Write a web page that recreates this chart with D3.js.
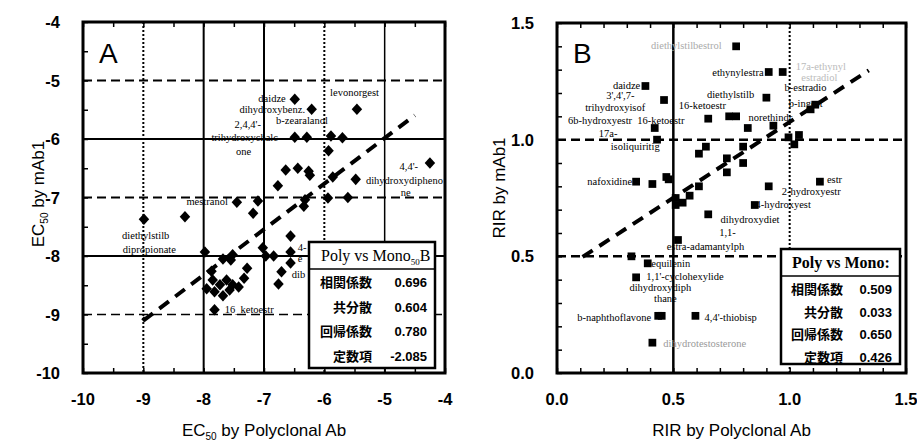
<!DOCTYPE html>
<html>
<head>
<meta charset="utf-8">
<title>Poly vs Mono</title>
<script src="https://cdn.jsdelivr.net/npm/d3@7"></script>
<style>
    body { margin: 0; background: #fff; }
    .tick-label { font-family: "Liberation Sans", Arial, sans-serif; font-weight: bold; font-size: 16.5px; }
    .axis-title { font-family: "Liberation Sans", Arial, sans-serif; font-size: 17px; }
    .pt-label { font-family: "Liberation Serif", serif; font-size: 10.5px; }
</style>
</head>
<body>
<script>
// panel A: log EC50 values
var ecPoly = [-6.49, -6.21, -5.46, -6.49, -6.29, -5.89, -5.70, -5.93, -4.25, -6.64,
    -6.44, -6.26, -6.24, -5.86, -6.77, -5.48, -7.45, -7.10, -6.32, -6.34,
    -5.94, -5.61, -7.18, -8.31, -8.99, -6.56, -7.98, -7.02, -6.97, -6.84,
    -6.56, -6.56, -6.71, -6.76, -7.68, -7.55, -7.52, -7.28, -7.33, -7.87,
    -7.85, -7.95, -7.82, -7.73, -7.68, -7.62, -7.57, -7.52, -7.42, -7.82, -8.99];
var ecMono = [-5.32, -5.49, -5.49, -5.97, -5.97, -5.95, -5.98, -6.20, -6.41, -6.53,
    -6.50, -6.55, -6.62, -6.65, -6.80, -6.69, -7.08, -7.06, -7.04, -7.15,
    -7.01, -7.00, -7.27, -7.33, -7.37, -7.66, -7.93, -7.86, -8.00, -8.00,
    -7.93, -8.12, -8.27, -8.48, -8.05, -8.07, -7.98, -8.21, -8.38, -8.26,
    -8.41, -8.56, -8.61, -8.49, -8.68, -8.41, -8.58, -8.49, -8.53, -8.92, -9.08];

// panel B: relative immunoreactivity
var rirPoly = [0.77, 0.91, 0.97, 0.38, 0.46, 0.90, 1.09, 1.11, 0.65, 0.74,
    0.77, 0.42, 0.82, 0.93, 0.43, 0.995, 1.04, 1.02, 0.64, 0.61,
    0.80, 0.80, 0.73, 0.73, 0.34, 0.41, 0.47, 0.48, 0.61, 0.91,
    1.13, 0.51, 0.51, 0.57, 0.54, 0.85, 0.65, 0.52, 0.32, 0.39,
    0.34, 0.435, 0.45, 0.595, 0.41];
var rirMono = [1.40, 1.29, 1.29, 1.23, 1.17, 1.18, 1.13, 1.15, 1.09, 1.10,
    1.10, 1.05, 1.05, 1.06, 1.00, 1.01, 1.02, 0.98, 0.97, 0.94,
    0.97, 0.90, 0.92, 0.86, 0.82, 0.81, 0.84, 0.83, 0.80, 0.80,
    0.82, 0.75, 0.72, 0.76, 0.73, 0.72, 0.68, 0.57, 0.50, 0.47,
    0.41, 0.245, 0.245, 0.245, 0.13];

// compound names next to points: [text, x, y, anchor, colour]
var ecLabels = [
    ["daidze", -6.64, -5.37, "end"],
    ["dihydroxybenz.", -6.32, -5.56, "end"],
    ["b-zearalanol", -6.80, -5.74, "start"],
    ["2,4,4'-", -7.27, -5.81, "middle"],
    ["trihydroxychalc", -7.32, -6.03, "middle"],
    ["one", -7.34, -6.27, "middle"],
    ["levonorgest", -5.50, -5.26, "middle"],
    ["4,4'-", -4.60, -6.53, "middle"],
    ["dihydroxydipheno", -5.31, -6.77, "start"],
    ["ne", -4.65, -6.97, "middle"],
    ["mestranol", -7.60, -7.13, "end"],
    ["diethylstilb", -8.96, -7.71, "middle"],
    ["dipropionate", -8.90, -7.95, "middle"],
    ["16_ketoestr", -7.65, -8.97, "start"],
    ["4-", -6.44, -7.92, "start"],
    ["e", -6.44, -8.11, "start"],
    ["dib", -6.54, -8.37, "start"]
];
var rirLabels = [
    ["diethylstilbestrol", 0.556, 1.389, "middle", "#aaa"],
    ["ethynylestra", 0.888, 1.273, "end"],
    ["17a-ethynyl", 1.026, 1.30, "start", "#bbb"],
    ["estradiol", 1.05, 1.25, "start", "#bbb"],
    ["daidze", 0.358, 1.217, "end"],
    ["3',4',7-", 0.272, 1.174, "middle"],
    ["trihydroxyisof", 0.25, 1.123, "middle"],
    ["6b-hydroxyestr", 0.185, 1.067, "middle"],
    ["16-ketoestr", 0.345, 1.067, "start"],
    ["17a-", 0.22, 1.011, "middle"],
    ["isoliquiritig", 0.336, 0.956, "middle"],
    ["16-ketoestr", 0.625, 1.13, "middle"],
    ["diethylstilb", 0.746, 1.18, "middle"],
    ["b-estradio", 0.978, 1.209, "start"],
    ["b-ingest", 1.069, 1.14, "middle"],
    ["norethindr", 0.823, 1.08, "start"],
    ["nafoxidine", 0.323, 0.806, "end"],
    ["estr", 1.16, 0.816, "start"],
    ["2-hydroxyestr", 0.966, 0.762, "start"],
    ["4-hydroxyest", 0.853, 0.709, "start"],
    ["dihydroxydiet", 0.703, 0.643, "start"],
    ["1,1-", 0.733, 0.587, "middle"],
    ["estra-adamantylph", 0.638, 0.527, "middle"],
    ["equilenin", 0.405, 0.454, "start"],
    ["1,1'-cyclohexylide", 0.55, 0.398, "middle"],
    ["dihydroxydiph", 0.444, 0.351, "middle"],
    ["thane", 0.466, 0.304, "middle"],
    ["b-naphthoflavone", 0.405, 0.223, "end"],
    ["4,4'-thiobisp", 0.634, 0.223, "start"],
    ["dihydrotestosterone", 0.457, 0.111, "start", "#999"]
];

var statNames = ["相関係数", "共分散", "回帰係数", "定数項"];
var ecStats = ["0.696", "0.604", "0.780", "-2.085"];
var rirStats = ["0.509", "0.033", "0.650", "0.426"];

var svg = d3.select("body").append("svg")
        .attr("width", 917)
        .attr("height", 441);

// near-square diamond, like the spreadsheet marker
var wideDiamond = {
    draw: function (ctx, size) {
        var r = Math.sqrt(size) / 2;
        ctx.moveTo(0, -r * 1.1);
        ctx.lineTo(r, 0);
        ctx.lineTo(0, r * 1.1);
        ctx.lineTo(-r, 0);
        ctx.closePath();
    }
};

// text made of parts: [string, dy, small]
function richText(sel, parts, smallSize) {
    parts.forEach(function (h) {
        var ts = sel.append("tspan").text(h[0]);
        if (h[1]) ts.attr("dy", h[1]);
        if (h[2]) ts.attr("font-size", smallSize);
    });
}

function panel(opt) {
    var x = d3.scaleLinear().domain(opt.domain).range([opt.left, opt.right]);
    var y = d3.scaleLinear().domain(opt.domain).range([opt.bottom, opt.top]);
    var g = svg.append("g");

    // grid lines
    opt.vgrid.forEach(function (v) {
        g.append("line")
                .attr("x1", x(v[0])).attr("x2", x(v[0]))
                .attr("y1", opt.top).attr("y2", opt.bottom)
                .attr("stroke", "#000")
                .attr("stroke-width", v[2])
                .attr("stroke-dasharray", v[1]);
    });
    opt.hgrid.forEach(function (v) {
        g.append("line")
                .attr("y1", y(v[0])).attr("y2", y(v[0]))
                .attr("x1", opt.left).attr("x2", opt.right)
                .attr("stroke", "#000")
                .attr("stroke-width", v[2])
                .attr("stroke-dasharray", v[1]);
    });

    // minor inward ticks
    g.append("g").attr("transform", "translate(" + opt.left + ",0)")
            .call(d3.axisLeft(y).tickValues(opt.minor).tickSize(-5).tickFormat(""))
            .call(function (s) { s.select(".domain").remove(); });
    g.append("g").attr("transform", "translate(0," + opt.top + ")")
            .call(d3.axisTop(x).tickValues(opt.minor).tickSize(-5).tickFormat(""))
            .call(function (s) { s.select(".domain").remove(); });
    g.append("g").attr("transform", "translate(0," + opt.bottom + ")")
            .call(d3.axisBottom(x).tickValues(opt.minor).tickSize(-5).tickFormat(""))
            .call(function (s) { s.select(".domain").remove(); });
    g.selectAll(".tick line").attr("stroke-width", 1.5);

    // points
    var sym = d3.symbol().type(opt.symbol).size(opt.symSize);
    var symSmall = d3.symbol().type(opt.symbol).size(28);
    g.selectAll("path.pt")
            .data(opt.px)
            .enter().append("path")
            .attr("class", "pt")
            .attr("d", function (d, i) { return i === opt.small ? symSmall() : sym(); })
            .attr("transform", function (d, i) {
                return "translate(" + x(d) + "," + y(opt.py[i]) + ")";
            })
            .attr("fill", "#000");

    // regression line
    var slope = +opt.stats[2], icpt = +opt.stats[3];
    g.append("line")
            .attr("x1", x(opt.fit[0])).attr("y1", y(slope * opt.fit[0] + icpt))
            .attr("x2", x(opt.fit[1])).attr("y2", y(slope * opt.fit[1] + icpt))
            .attr("stroke", "#000")
            .attr("stroke-width", 4)
            .attr("stroke-dasharray", "12,8");

    // point labels
    g.selectAll("text.pt-label")
            .data(opt.labels)
            .enter().append("text")
            .attr("class", "pt-label")
            .attr("x", function (d) { return x(d[1]); })
            .attr("y", function (d) { return y(d[2]); })
            .attr("text-anchor", function (d) { return d[3]; })
            .attr("fill", function (d) { return d[4] || "#000"; })
            .text(function (d) { return d[0]; });

    // tick labels
    opt.ticks.forEach(function (t) {
        g.append("text").attr("class", "tick-label")
                .attr("x", x(t)).attr("y", 405)
                .attr("text-anchor", "middle")
                .text(opt.fmt(t));
        g.append("text").attr("class", "tick-label")
                .attr("x", opt.left - 23).attr("y", y(t) + 6)
                .attr("text-anchor", "end")
                .text(opt.fmt(t));
    });

    // stats box
    var b = opt.box;
    g.append("rect")
            .attr("x", b[0]).attr("y", b[1])
            .attr("width", b[2]).attr("height", b[3])
            .attr("fill", "#fff").attr("stroke", "#000").attr("stroke-width", 2.5);
    g.append("line")
            .attr("x1", b[0]).attr("x2", b[0] + b[2])
            .attr("y1", b[1] + 27).attr("y2", b[1] + 27)
            .attr("stroke", "#000").attr("stroke-width", 1.5);
    g.append("clipPath").attr("id", "clip" + opt.id)
            .append("rect").attr("x", b[0]).attr("y", b[1]).attr("width", b[2] - 2).attr("height", 27);
    var head = g.append("text")
            .attr("clip-path", "url(#clip" + opt.id + ")")
            .attr("x", b[0] + opt.headX).attr("y", b[1] + 19)
            .attr("font-family", "Liberation Serif, serif")
            .attr("font-size", 16)
            .attr("font-weight", opt.headBold ? "bold" : "normal");
    richText(head, opt.head, 9);
    statNames.forEach(function (n, i) {
        var ry = b[1] + 45 + i * opt.rowStep;
        g.append("text")
                .attr("x", b[0] + opt.nameRight).attr("y", ry)
                .attr("text-anchor", "end")
                .attr("font-family", "Noto Sans CJK JP")
                .attr("font-weight", "bold").attr("font-size", 13)
                .text(n);
        g.append("text")
                .attr("x", b[0] + b[2] - 8).attr("y", ry)
                .attr("text-anchor", "end")
                .attr("font-family", "Liberation Sans, Arial, sans-serif")
                .attr("font-weight", "bold").attr("font-size", 13)
                .text(opt.stats[i]);
    });

    // frame
    g.append("rect")
            .attr("x", opt.left).attr("y", opt.top)
            .attr("width", opt.right - opt.left).attr("height", opt.bottom - opt.top)
            .attr("fill", "none").attr("stroke", "#000").attr("stroke-width", 3);

    // panel letter
    g.append("text")
            .attr("x", opt.left + 16).attr("y", 63)
            .attr("font-family", "Liberation Sans, Arial, sans-serif")
            .attr("font-size", 28)
            .text(opt.id);

    // axis titles
    var xt = g.append("text").attr("class", "axis-title")
            .attr("x", (opt.left + opt.right) / 2).attr("y", 436)
            .attr("text-anchor", "middle");
    richText(xt, opt.xTitle, 10);
    var yt = g.append("text").attr("class", "axis-title")
            .attr("transform", "translate(" + opt.yTitleX + "," + opt.yTitleY + ") rotate(-90)")
            .attr("text-anchor", "middle");
    richText(yt, opt.yTitle, 10);
}

function plainNumber(d) { return String(d); }

panel({
    id: "A",
    domain: [-10, -4], left: 83, right: 445, top: 22, bottom: 373,
    ticks: [-10, -9, -8, -7, -6, -5, -4],
    minor: d3.range(-10, -3.9, 0.5),
    fmt: plainNumber,
    vgrid: [[-9, "2,2", 2], [-8, null, 2], [-7, null, 2], [-6, "2,2", 2], [-5, null, 1.5]],
    hgrid: [[-5, "9,5", 2], [-6, null, 2], [-7, "9,5", 2], [-8, null, 2], [-9, "9,5", 1.5]],
    px: ecPoly, py: ecMono, symbol: wideDiamond, symSize: 110, small: 50,
    fit: [-9, -4.5],
    labels: ecLabels,
    stats: ecStats,
    box: [309, 242, 126, 126], rowStep: 24.5, nameRight: 63, headX: 12,
    head: [["Poly vs Mono"], ["50", 4, true], ["B", -4]], headBold: false,
    xTitle: [["EC"], ["50", 4, true], [" by Polyclonal Ab", -4]],
    yTitle: [["EC"], ["50", 4, true], [" by mAb1", -4]],
    yTitleX: 44, yTitleY: 194
});

panel({
    id: "B",
    domain: [0, 1.5], left: 557, right: 906, top: 23, bottom: 373,
    ticks: [0, 0.5, 1, 1.5],
    minor: d3.range(0, 1.51, 0.1),
    fmt: d3.format(".1f"),
    vgrid: [[0.5, null, 2.5], [1.0, "2,2", 2]],
    hgrid: [[1.0, "9,5", 2.5], [0.5, "9,5", 2.5]],
    px: rirPoly, py: rirMono, symbol: d3.symbolSquare, symSize: 60, small: -1,
    fit: [0.11, 1.34],
    labels: rirLabels,
    stats: rirStats,
    box: [781, 249, 119, 115], rowStep: 22.5, nameRight: 62, headX: 11,
    head: [["Poly vs Mono:"]], headBold: true,
    xTitle: [["RIR by Polyclonal Ab"]],
    yTitle: [["RIR by mAb1"]],
    yTitleX: 505, yTitleY: 188
});
</script>
</body>
</html>
